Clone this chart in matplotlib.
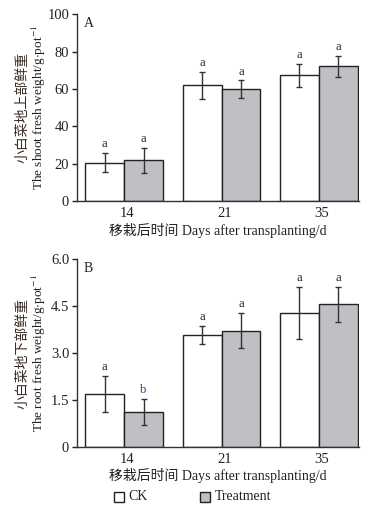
import numpy as np
import matplotlib
matplotlib.use('Agg')
import matplotlib.pyplot as plt
from matplotlib.patches import Rectangle

plt.rcParams['font.family'] = ['Liberation Serif', 'Noto Sans CJK SC']
plt.rcParams['mathtext.fontset'] = 'stix'

days = ['14', '21', '35']
groups = ['CK', 'Treatment']

shoot_ck = [20.6, 61.9, 67.3]
shoot_ck_err = [5.2, 7.3, 6.2]
shoot_tr = [21.9, 60.0, 72.1]
shoot_tr_err = [6.8, 4.6, 5.8]
shoot_ck_sig = ['a', 'a', 'a']
shoot_tr_sig = ['a', 'a', 'a']

root_ck = [1.69, 3.57, 4.28]
root_ck_err = [0.57, 0.28, 0.84]
root_tr = [1.12, 3.72, 4.56]
root_tr_err = [0.42, 0.57, 0.56]
root_ck_sig = ['a', 'a', 'a']
root_tr_sig = ['b', 'a', 'a']

ck_color = 'white'
tr_color = '#bfc0c4'
edge = '#222222'
txt = '#222222'
fam = ['Liberation Serif', 'Noto Sans CJK SC']

fig = plt.figure(figsize=(3.88, 5.08), dpi=100)
axA = fig.add_axes([0.198, 0.604, 0.727, 0.368])
axB = fig.add_axes([0.198, 0.120, 0.727, 0.370])


def draw_panel(ax, ck, ck_err, tr, tr_err, ck_sig, tr_sig, ymax, yticks, yticklabels,
               label, cn_label, en_label, sig_off, sig_colors):
    x = np.arange(len(days))
    w = 0.4
    ax.bar(x - w / 2, ck, w, color=ck_color, edgecolor=edge, linewidth=1.0)
    ax.bar(x + w / 2, tr, w, color=tr_color, edgecolor=edge, linewidth=1.0)
    ax.errorbar(x - w / 2, ck, yerr=ck_err, fmt='none', ecolor='#333333',
                elinewidth=1.0, capsize=2.5, capthick=1.0)
    ax.errorbar(x + w / 2, tr, yerr=tr_err, fmt='none', ecolor='#333333',
                elinewidth=1.0, capsize=2.5, capthick=1.0)
    for i in range(len(days)):
        ax.text(x[i] - w / 2, ck[i] + ck_err[i] + sig_off, ck_sig[i], ha='center',
                va='bottom', fontsize=9, color=sig_colors[0][i])
        ax.text(x[i] + w / 2, tr[i] + tr_err[i] + sig_off, tr_sig[i], ha='center',
                va='bottom', fontsize=9, color=sig_colors[1][i])
    ax.set_xlim(-0.485, 2.41)
    ax.set_ylim(0, ymax)
    ax.set_yticks(yticks)
    ax.set_yticklabels(yticklabels)
    ax.set_xticks(x + 0.03)
    ax.set_xticklabels(days)
    ax.tick_params(axis='x', length=0, pad=4, labelsize=10.5, colors=txt)
    ax.tick_params(axis='y', direction='out', length=3.5, width=1.0, pad=2,
                   labelsize=10.5, colors=txt)
    for s in ['top', 'right']:
        ax.spines[s].set_visible(False)
    for s in ['left', 'bottom']:
        ax.spines[s].set_color('#333333')
        ax.spines[s].set_linewidth(1.0)
    ax.text(0.025, 0.985, label, transform=ax.transAxes, ha='left', va='top',
            fontsize=10, color=txt)
    ax.set_xlabel('移栽后时间 Days after transplanting/d', fontsize=10, color=txt,
                  labelpad=2, family=fam)
    ax.text(-0.19, 0.5, cn_label, transform=ax.transAxes, rotation=90,
            ha='center', va='center', fontsize=10, color='#3a2a22', family=fam)
    ax.text(-0.133, 0.5, en_label, transform=ax.transAxes, rotation=90,
            ha='center', va='center', fontsize=9.5, color='#222222', family=fam)


black3 = [txt] * 3
draw_panel(axA, shoot_ck, shoot_ck_err, shoot_tr, shoot_tr_err, shoot_ck_sig, shoot_tr_sig,
           100, [0, 20, 40, 60, 80, 100], ['0', '20', '40', '60', '80', '100'],
           'A', '小白菜地上部鲜重', 'The shoot fresh weight/g$\\cdot$pot$^{-1}$', 1.5,
           [black3, black3])
draw_panel(axB, root_ck, root_ck_err, root_tr, root_tr_err, root_ck_sig, root_tr_sig,
           6.0, [0, 1.5, 3.0, 4.5, 6.0], ['0', '1.5', '3.0', '4.5', '6.0'],
           'B', '小白菜地下部鲜重', 'The root fresh weight/g$\\cdot$pot$^{-1}$', 0.1,
           [black3, ['#2a4a8a', txt, txt]])

# legend row at the bottom
for xs, col, name in [(0.293, ck_color, groups[0]), (0.515, tr_color, groups[1])]:
    fig.patches.append(Rectangle((xs, 0.012), 0.026, 0.02, transform=fig.transFigure,
                                 facecolor=col, edgecolor=edge, linewidth=1.0))
    fig.text(xs + 0.038, 0.022, name, ha='left', va='center', fontsize=10, color=txt)

fig.savefig('out.png', dpi=100)
